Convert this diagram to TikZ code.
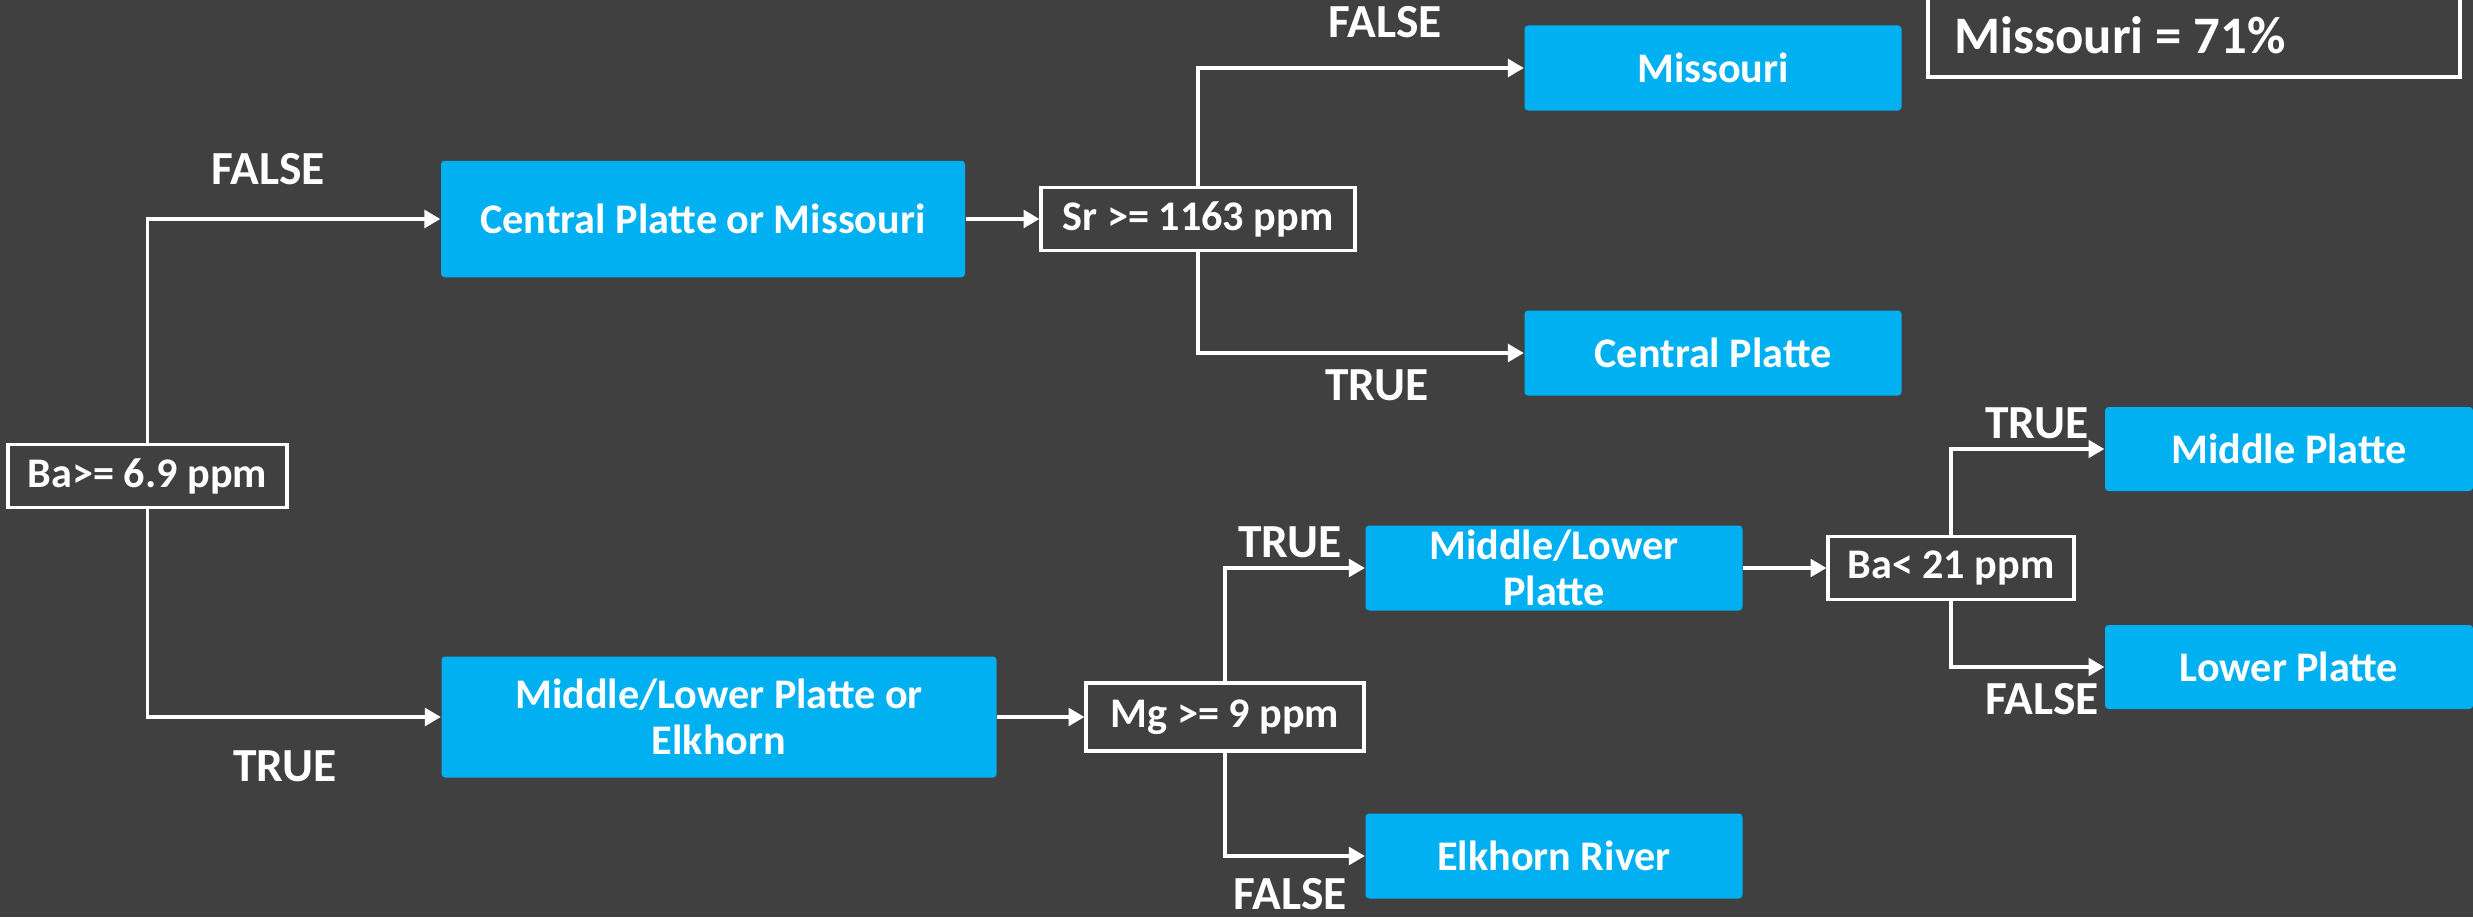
\documentclass[tikz,border=0pt]{standalone}
\usepackage{fontspec}
\setmainfont{Carlito}
\usetikzlibrary{arrows.meta}
\definecolor{bg}{RGB}{64,64,64}
\definecolor{river}{RGB}{0,176,240}
\begin{document}
\begin{tikzpicture}[>={Triangle[width=5pt,length=4.5pt]}, font=\bfseries\fontsize{12}{13}\selectfont, text=white]
        \tikzstyle{leaf}=[fill=river, rounded corners=1pt, align=center, inner sep=1pt]
        \tikzstyle{test}=[draw=white, line width=0.9pt, fill=bg, minimum height=0.63cm, inner sep=3pt]
        \tikzstyle{branch}=[font=\bfseries\fontsize{13.5}{15}\selectfont]
        \tikzstyle{link}=[draw=white, line width=1pt]

        \fill[bg] (0,0) rectangle (24.73,9.17);
        \clip (0,0) rectangle (24.73,9.17);

        \node[test, minimum width=2.79cm](ba) at (1.475,4.41){Ba>= 6.9 ppm};
        \node[leaf, minimum width=5.24cm, minimum height=1.165cm](cpm) at (7.03,6.98){Central Platte or Missouri};
        \node[leaf, minimum width=5.55cm, minimum height=1.21cm](mle) at (7.19,2.00){Middle/Lower Platte or\\Elkhorn};
        \node[test, minimum width=3.14cm](sr) at (11.98,6.98){Sr >= 1163 ppm};
        \node[leaf, minimum width=3.77cm, minimum height=0.85cm](mo) at (17.13,8.49){Missouri};
        \node[leaf, minimum width=3.77cm, minimum height=0.85cm](cp) at (17.13,5.64){Central Platte};
        \node[test, minimum width=2.78cm, minimum height=0.68cm](mg) at (12.25,2.00){Mg >= 9 ppm};
        \node[leaf, minimum width=3.77cm, minimum height=0.85cm](mlp) at (15.54,3.49){Middle/Lower\\Platte};
        \node[leaf, minimum width=3.77cm, minimum height=0.85cm](ek) at (15.54,0.61){Elkhorn River};
        \node[test, minimum width=2.46cm](bb) at (19.51,3.49){Ba< 21 ppm};
        \node[leaf, minimum width=3.68cm, minimum height=0.84cm](mp) at (22.89,4.68){Middle Platte};
        \node[leaf, minimum width=3.68cm, minimum height=0.84cm](lp) at (22.89,2.50){Lower Platte};

        % overall score
        \draw[white, line width=0.9pt] (19.28,9.6) rectangle (24.60,8.40);
        \node[anchor=west, font=\bfseries\fontsize{15}{18}\selectfont](acc) at (19.42,8.82){Missouri = 71\%};

        \node[branch] at (2.68,7.48){FALSE};
        \node[branch] at (2.85,1.51){TRUE};
        \node[branch] at (13.85,8.95){FALSE};
        \node[branch] at (13.77,5.32){TRUE};
        \node[branch] at (12.90,3.75){TRUE};
        \node[branch] at (12.90,0.23){FALSE};
        \node[branch] at (20.37,4.94){TRUE};
        \node[branch] at (20.42,2.18){FALSE};

        \draw[link,->] (ba) |- (cpm);
        \draw[link,->] (ba) |- (mle);
        \draw[link,->] (cpm) -- (sr);
        \draw[link,->] (sr) |- (mo);
        \draw[link,->] (sr) |- (cp);
        \draw[link,->] (mle) -- (mg);
        \draw[link,->] (mg) |- (mlp);
        \draw[link,->] (mg) |- (ek);
        \draw[link,->] (mlp) -- (bb);
        \draw[link,->] (bb) |- (mp);
        \draw[link,->] (bb) |- (lp);

        \end{tikzpicture}
\end{document}
